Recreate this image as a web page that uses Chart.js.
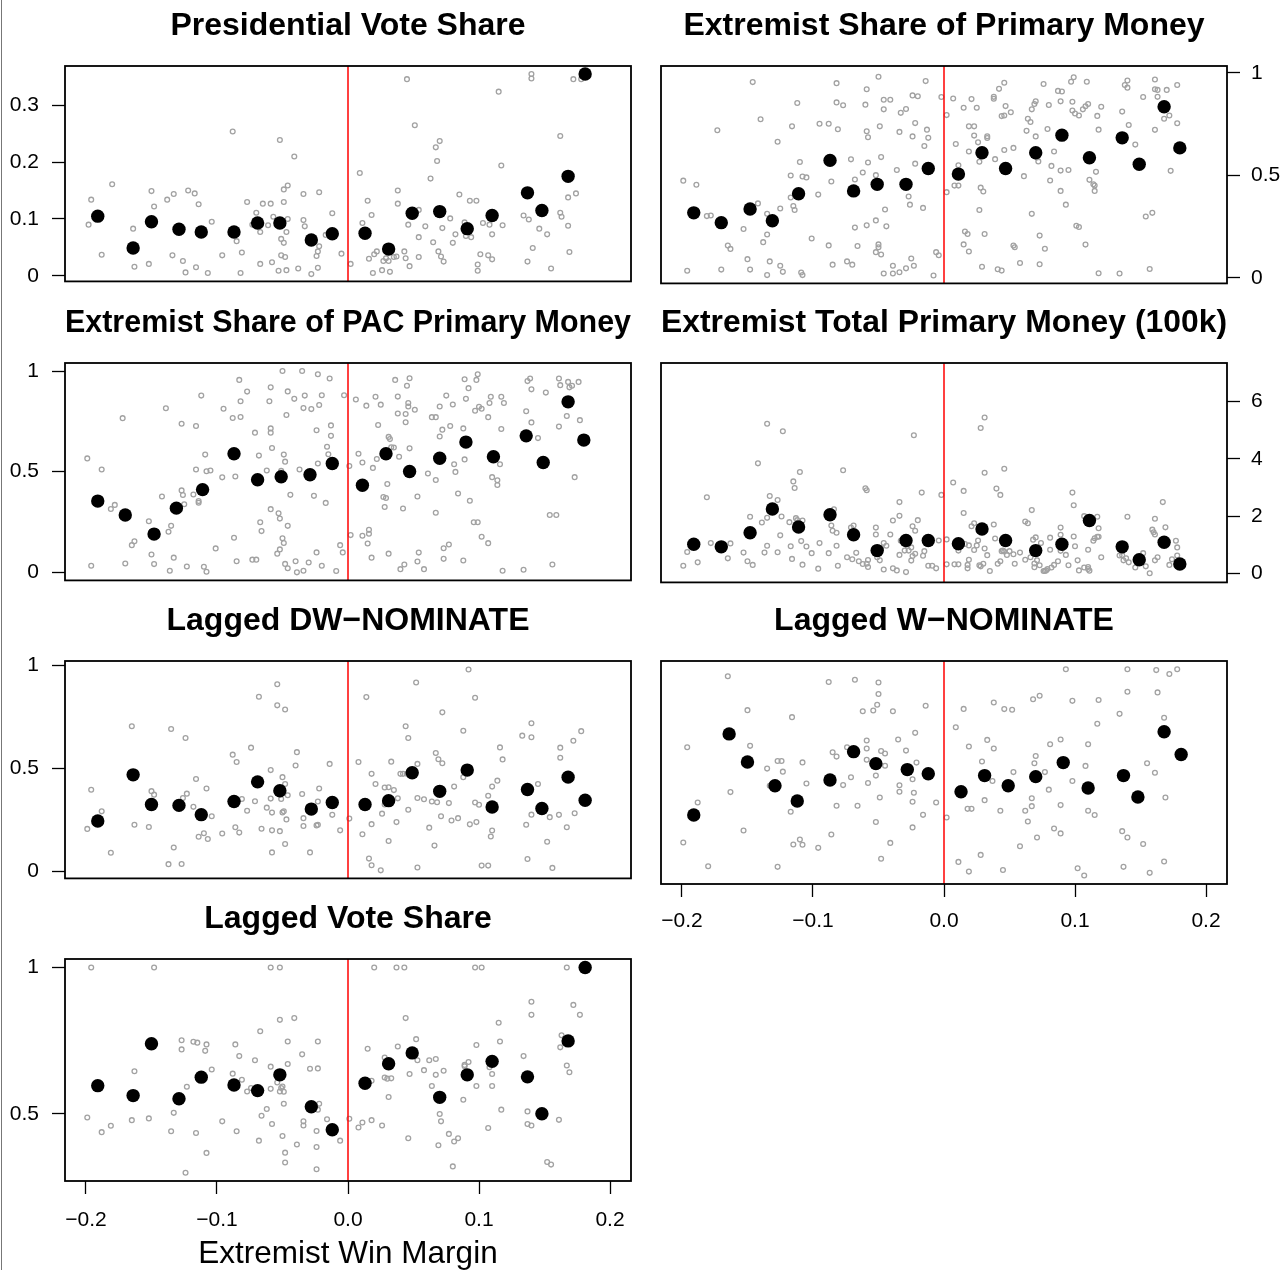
<!DOCTYPE html>
<html>
<head>
<meta charset="utf-8">
<script src="https://cdn.jsdelivr.net/npm/chart.js@4/dist/chart.umd.min.js"></script>
<style>
  html, body { margin: 0; padding: 0; background: #fff; }
  body { position: relative; width: 1288px; height: 1270px; overflow: hidden; }
  .panel { position: absolute; }
  .edge { position: absolute; left: 1px; top: 0; width: 1px; height: 1270px; background: #777; }
</style>
</head>
<body>
<div class="edge"></div>
<script>
// x axis (extremist win margin)
const xTicks = [-0.2, -0.1, 0, 0.1, 0.2];
const xTickLabels = ['\u22120.2', '\u22120.1', '0.0', '0.1', '0.2'];

// bin centres of the black dots
const binXA = [-0.191, -0.164, -0.150, -0.129, -0.112, -0.087, -0.069, -0.052, -0.028, -0.012, 0.013, 0.031, 0.049, 0.070, 0.091, 0.110, 0.137, 0.148, 0.168, 0.181];
const binXB = [-0.191, -0.170, -0.148, -0.131, -0.111, -0.087, -0.069, -0.051, -0.029, -0.012, 0.011, 0.029, 0.047, 0.070, 0.090, 0.111, 0.136, 0.149, 0.168, 0.180];

// y ticks
const presVoteTicks = [0, 0.1, 0.2, 0.3];
const presVoteTickLabels = ['0', '0.1', '0.2', '0.3'];
const shareTicks = [0, 0.5, 1];
const shareTickLabels = ['0', '0.5', '1'];
const moneyTicks = [0, 2, 4, 6];
const moneyTickLabels = ['0', '2', '4', '6'];
const lagVoteTicks = [0.5, 1];
const lagVoteTickLabels = ['0.5', '1'];

// bin means
const presVoteMeans = [0.105, 0.049, 0.095, 0.082, 0.077, 0.077, 0.093, 0.093, 0.063, 0.074, 0.075, 0.047, 0.110, 0.113, 0.083, 0.106, 0.146, 0.115, 0.175, 0.355];
const primShareMeans = [0.317, 0.269, 0.336, 0.278, 0.410, 0.573, 0.424, 0.456, 0.456, 0.533, 0.506, 0.610, 0.533, 0.610, 0.696, 0.586, 0.683, 0.554, 0.835, 0.634];
const pacShareMeans = [0.354, 0.285, 0.190, 0.319, 0.411, 0.589, 0.460, 0.475, 0.485, 0.541, 0.433, 0.589, 0.501, 0.567, 0.647, 0.574, 0.678, 0.546, 0.847, 0.657];
const totalMoneyMeans = [1.02, 0.93, 1.42, 2.25, 1.62, 2.05, 1.35, 0.80, 1.15, 1.15, 1.04, 1.55, 1.15, 0.80, 1.02, 1.85, 0.93, 0.48, 1.09, 0.33];
const dwNomMeans = [0.244, 0.468, 0.324, 0.320, 0.275, 0.339, 0.434, 0.391, 0.302, 0.334, 0.324, 0.343, 0.478, 0.388, 0.491, 0.312, 0.397, 0.305, 0.457, 0.345];
const wNomMeans = [0.294, 0.687, 0.551, 0.436, 0.362, 0.464, 0.601, 0.543, 0.514, 0.494, 0.407, 0.485, 0.436, 0.480, 0.548, 0.425, 0.485, 0.381, 0.697, 0.587];
const lagVoteMeans = [0.596, 0.562, 0.739, 0.551, 0.625, 0.598, 0.579, 0.633, 0.524, 0.445, 0.604, 0.671, 0.708, 0.556, 0.633, 0.679, 0.626, 0.500, 0.749, 1.000];

// individual races [margin, value]
const presVotePoints = [[-0.198,0.090],[-0.196,0.134],[-0.188,0.037],[-0.180,0.161],[-0.164,0.083],[-0.163,0.016],[-0.152,0.021],[-0.150,0.149],[-0.148,0.122],[-0.138,0.134],[-0.133,0.144],[-0.134,0.036],[-0.126,0.026],[-0.124,0.006],[-0.122,0.150],[-0.117,0.145],[-0.114,0.126],[-0.116,0.015],[-0.107,0.005],[-0.104,0.095],[-0.096,0.036],[-0.088,0.254],[-0.085,0.061],[-0.082,0.005],[-0.081,0.041],[-0.077,0.130],[-0.073,0.090],[-0.070,0.111],[-0.067,0.077],[-0.067,0.021],[-0.065,0.127],[-0.059,0.127],[-0.061,0.089],[-0.057,0.104],[-0.058,0.024],[-0.053,0.009],[-0.052,0.239],[-0.051,0.065],[-0.049,0.152],[-0.049,0.130],[-0.049,0.058],[-0.047,0.010],[-0.046,0.159],[-0.047,0.077],[-0.046,0.100],[-0.051,0.036],[-0.048,0.033],[-0.041,0.210],[-0.038,0.013],[-0.034,0.144],[-0.034,0.098],[-0.033,0.087],[-0.028,0.003],[-0.024,0.035],[-0.023,0.014],[-0.022,0.147],[-0.022,0.052],[-0.023,0.043],[-0.017,0.072],[-0.012,0.110],[-0.005,0.039],[0.002,0.021],[0.009,0.181],[0.011,0.093],[0.015,0.132],[0.018,0.107],[0.016,0.030],[0.019,0.005],[0.020,0.038],[0.022,0.043],[0.026,0.010],[0.027,0.026],[0.029,0.031],[0.031,0.026],[0.032,0.007],[0.035,0.033],[0.037,0.034],[0.038,0.150],[0.038,0.127],[0.043,0.043],[0.044,0.031],[0.045,0.346],[0.046,0.090],[0.047,0.017],[0.051,0.265],[0.054,0.116],[0.054,0.068],[0.054,0.033],[0.059,0.087],[0.063,0.171],[0.065,0.059],[0.067,0.226],[0.068,0.202],[0.069,0.043],[0.070,0.237],[0.071,0.034],[0.072,0.084],[0.073,0.025],[0.078,0.101],[0.080,0.058],[0.082,0.073],[0.085,0.143],[0.089,0.094],[0.090,0.070],[0.093,0.132],[0.094,0.068],[0.098,0.132],[0.099,0.009],[0.099,0.020],[0.101,0.038],[0.103,0.093],[0.107,0.036],[0.108,0.090],[0.110,0.029],[0.110,0.073],[0.115,0.324],[0.117,0.194],[0.118,0.089],[0.134,0.106],[0.137,0.025],[0.138,0.099],[0.141,0.049],[0.140,0.355],[0.140,0.347],[0.146,0.083],[0.152,0.073],[0.155,0.013],[0.162,0.246],[0.162,0.111],[0.163,0.104],[0.168,0.138],[0.168,0.088],[0.169,0.042],[0.172,0.346],[0.174,0.145],[0.178,0.346]];

const primSharePoints = [[-0.199,0.474],[-0.196,0.034],[-0.189,0.454],[-0.181,0.301],[-0.178,0.304],[-0.173,0.720],[-0.170,0.040],[-0.165,0.157],[-0.163,0.141],[-0.153,0.238],[-0.150,0.091],[-0.148,0.040],[-0.146,0.955],[-0.142,0.363],[-0.140,0.774],[-0.138,0.174],[-0.135,0.312],[-0.135,0.211],[-0.135,0.013],[-0.133,0.080],[-0.127,0.664],[-0.125,0.059],[-0.123,0.029],[-0.125,0.338],[-0.117,0.499],[-0.116,0.739],[-0.115,0.350],[-0.114,0.331],[-0.112,0.853],[-0.117,0.392],[-0.110,0.406],[-0.110,0.565],[-0.109,0.026],[-0.108,0.013],[-0.108,0.494],[-0.105,0.490],[-0.101,0.192],[-0.096,0.406],[-0.095,0.752],[-0.088,0.752],[-0.088,0.158],[-0.085,0.064],[-0.082,0.950],[-0.082,0.856],[-0.081,0.725],[-0.086,0.470],[-0.077,0.842],[-0.074,0.080],[-0.071,0.578],[-0.070,0.064],[-0.068,0.480],[-0.068,0.245],[-0.066,0.155],[-0.062,0.514],[-0.059,0.256],[-0.060,0.845],[-0.059,0.920],[-0.059,0.715],[-0.058,0.686],[-0.058,0.563],[-0.052,0.501],[-0.052,0.280],[-0.051,0.472],[-0.052,0.125],[-0.050,0.163],[-0.050,0.149],[-0.050,0.981],[-0.049,0.739],[-0.048,0.589],[-0.048,0.114],[-0.046,0.822],[-0.046,0.021],[-0.046,0.869],[-0.045,0.333],[-0.044,0.251],[-0.041,0.869],[-0.039,0.059],[-0.039,0.021],[-0.036,0.526],[-0.034,0.712],[-0.034,0.027],[-0.033,0.805],[-0.029,0.824],[-0.029,0.046],[-0.027,0.397],[-0.026,0.357],[-0.025,0.094],[-0.024,0.690],[-0.023,0.059],[-0.022,0.755],[-0.022,0.557],[-0.024,0.890],[-0.020,0.886],[-0.016,0.341],[-0.015,0.643],[-0.014,0.960],[-0.013,0.723],[-0.012,0.683],[-0.008,0.011],[-0.006,0.125],[-0.004,0.110],[-0.002,0.882],[0.002,0.794],[0.002,0.418],[0.007,0.875],[0.009,0.653],[0.008,0.450],[0.011,0.450],[0.011,0.549],[0.015,0.830],[0.016,0.226],[0.015,0.163],[0.018,0.214],[0.019,0.128],[0.019,0.616],[0.019,0.739],[0.023,0.739],[0.021,0.872],[0.025,0.830],[0.023,0.694],[0.026,0.661],[0.027,0.566],[0.028,0.440],[0.027,0.331],[0.029,0.054],[0.030,0.421],[0.031,0.214],[0.033,0.691],[0.033,0.682],[0.038,0.874],[0.038,0.883],[0.039,0.579],[0.041,0.042],[0.042,0.922],[0.044,0.035],[0.044,0.789],[0.046,0.952],[0.046,0.624],[0.046,0.792],[0.047,0.838],[0.048,0.549],[0.051,0.808],[0.053,0.634],[0.053,0.157],[0.054,0.149],[0.058,0.072],[0.061,0.496],[0.063,0.717],[0.064,0.776],[0.066,0.760],[0.067,0.822],[0.067,0.312],[0.069,0.848],[0.070,0.861],[0.070,0.690],[0.071,0.587],[0.072,0.568],[0.073,0.066],[0.073,0.206],[0.076,0.946],[0.077,0.142],[0.079,0.726],[0.080,0.843],[0.081,0.475],[0.082,0.546],[0.084,0.616],[0.087,0.912],[0.089,0.861],[0.089,0.523],[0.089,0.424],[0.090,0.909],[0.093,0.357],[0.095,0.526],[0.097,0.957],[0.098,0.859],[0.098,0.816],[0.099,0.979],[0.100,0.802],[0.101,0.254],[0.103,0.248],[0.103,0.792],[0.106,0.822],[0.108,0.837],[0.109,0.957],[0.110,0.848],[0.108,0.162],[0.111,0.478],[0.114,0.456],[0.115,0.424],[0.115,0.450],[0.116,0.517],[0.117,0.790],[0.118,0.723],[0.118,0.022],[0.120,0.835],[0.134,0.021],[0.136,0.811],[0.138,0.941],[0.140,0.963],[0.140,0.928],[0.141,0.746],[0.146,0.650],[0.152,0.882],[0.154,0.299],[0.157,0.043],[0.159,0.317],[0.161,0.968],[0.161,0.722],[0.161,0.920],[0.163,0.883],[0.163,0.917],[0.168,0.776],[0.170,0.917],[0.172,0.792],[0.173,0.522],[0.178,0.941],[0.178,0.754]];

const pacSharePoints = [[-0.199,0.566],[-0.196,0.033],[-0.188,0.511],[-0.181,0.315],[-0.178,0.335],[-0.172,0.766],[-0.170,0.044],[-0.165,0.135],[-0.163,0.154],[-0.152,0.254],[-0.150,0.089],[-0.148,0.041],[-0.142,0.377],[-0.139,0.815],[-0.137,0.202],[-0.136,0.008],[-0.135,0.231],[-0.133,0.073],[-0.127,0.407],[-0.126,0.384],[-0.125,0.338],[-0.127,0.738],[-0.123,0.029],[-0.118,0.387],[-0.116,0.511],[-0.116,0.727],[-0.114,0.354],[-0.114,0.346],[-0.112,0.878],[-0.109,0.585],[-0.108,0.502],[-0.110,0.028],[-0.108,0.003],[-0.105,0.506],[-0.101,0.119],[-0.096,0.472],[-0.095,0.813],[-0.088,0.767],[-0.087,0.172],[-0.086,0.476],[-0.085,0.055],[-0.083,0.956],[-0.082,0.850],[-0.082,0.772],[-0.077,0.898],[-0.073,0.063],[-0.070,0.063],[-0.071,0.694],[-0.068,0.580],[-0.067,0.249],[-0.066,0.205],[-0.062,0.506],[-0.060,0.850],[-0.059,0.715],[-0.059,0.694],[-0.059,0.919],[-0.059,0.314],[-0.058,0.618],[-0.054,0.093],[-0.053,0.293],[-0.052,0.114],[-0.052,0.267],[-0.051,0.504],[-0.050,1.000],[-0.050,0.169],[-0.049,0.146],[-0.049,0.585],[-0.048,0.550],[-0.048,0.042],[-0.047,0.782],[-0.046,0.020],[-0.046,0.899],[-0.046,0.231],[-0.044,0.385],[-0.041,0.862],[-0.040,0.055],[-0.039,0.000],[-0.037,0.511],[-0.035,1.000],[-0.034,0.816],[-0.034,0.008],[-0.033,0.878],[-0.030,0.049],[-0.028,0.811],[-0.026,0.380],[-0.024,0.706],[-0.024,0.099],[-0.023,0.984],[-0.023,0.541],[-0.022,0.831],[-0.020,0.880],[-0.020,0.033],[-0.017,0.345],[-0.016,0.624],[-0.015,0.587],[-0.014,0.963],[-0.013,0.678],[-0.013,0.730],[-0.009,0.007],[-0.006,0.135],[-0.004,0.099],[-0.003,0.880],[0.001,0.528],[0.002,0.185],[0.006,0.859],[0.008,0.589],[0.011,0.182],[0.011,0.546],[0.014,0.828],[0.015,0.143],[0.016,0.211],[0.016,0.192],[0.019,0.519],[0.018,0.073],[0.021,0.872],[0.022,0.563],[0.023,0.732],[0.025,0.833],[0.027,0.374],[0.028,0.325],[0.029,0.369],[0.030,0.439],[0.031,0.673],[0.031,0.093],[0.032,0.662],[0.033,0.621],[0.035,0.620],[0.036,0.956],[0.038,0.873],[0.038,0.789],[0.039,0.574],[0.040,0.016],[0.042,0.317],[0.043,0.039],[0.044,0.746],[0.044,0.787],[0.045,0.927],[0.046,0.824],[0.046,0.841],[0.047,0.964],[0.047,0.616],[0.051,0.808],[0.053,0.377],[0.054,0.098],[0.053,0.054],[0.058,0.016],[0.061,0.491],[0.064,0.771],[0.067,0.771],[0.067,0.459],[0.067,0.296],[0.070,0.675],[0.070,0.824],[0.072,0.709],[0.073,0.067],[0.073,0.120],[0.077,0.138],[0.075,0.878],[0.078,0.727],[0.080,0.834],[0.081,0.537],[0.082,0.499],[0.084,0.392],[0.088,0.715],[0.088,0.059],[0.089,0.561],[0.089,0.959],[0.090,0.862],[0.092,0.915],[0.093,0.356],[0.096,0.249],[0.099,0.249],[0.097,0.803],[0.100,0.823],[0.099,0.984],[0.098,0.956],[0.102,0.177],[0.102,0.813],[0.107,0.771],[0.107,0.145],[0.109,0.872],[0.108,0.841],[0.110,0.473],[0.114,0.457],[0.114,0.434],[0.116,0.537],[0.117,0.712],[0.118,0.008],[0.117,0.872],[0.119,0.841],[0.134,0.013],[0.136,0.800],[0.137,0.950],[0.139,0.963],[0.140,0.745],[0.140,0.909],[0.145,0.667],[0.151,0.893],[0.154,0.285],[0.156,0.039],[0.159,0.285],[0.161,0.963],[0.161,0.724],[0.162,0.930],[0.167,0.777],[0.168,0.946],[0.169,0.919],[0.171,0.927],[0.173,0.473],[0.176,0.946],[0.177,0.756]];

const totalMoneyPoints = [[-0.199,0.27],[-0.196,0.75],[-0.188,0.39],[-0.181,2.66],[-0.178,1.06],[-0.165,0.53],[-0.163,1.05],[-0.153,0.73],[-0.150,0.43],[-0.148,1.98],[-0.146,0.30],[-0.142,3.84],[-0.139,1.78],[-0.137,0.73],[-0.135,5.22],[-0.135,1.94],[-0.133,2.70],[-0.135,0.97],[-0.127,2.56],[-0.127,0.74],[-0.125,1.33],[-0.124,1.99],[-0.123,4.96],[-0.118,1.79],[-0.117,0.95],[-0.116,0.51],[-0.115,3.21],[-0.114,2.98],[-0.113,1.93],[-0.112,1.86],[-0.110,3.54],[-0.109,1.13],[-0.108,1.85],[-0.108,0.31],[-0.105,0.94],[-0.101,0.71],[-0.096,0.17],[-0.095,1.06],[-0.088,0.71],[-0.086,1.67],[-0.085,1.49],[-0.084,2.24],[-0.082,1.42],[-0.082,0.97],[-0.081,0.27],[-0.077,3.60],[-0.074,0.57],[-0.071,1.60],[-0.070,0.50],[-0.069,1.67],[-0.067,0.72],[-0.065,0.43],[-0.062,0.33],[-0.060,2.97],[-0.059,2.90],[-0.059,0.34],[-0.058,0.47],[-0.058,0.23],[-0.052,1.60],[-0.052,1.36],[-0.051,0.57],[-0.050,0.69],[-0.049,0.46],[-0.048,0.88],[-0.046,0.14],[-0.046,1.06],[-0.044,0.97],[-0.041,1.36],[-0.039,1.85],[-0.039,0.18],[-0.036,0.11],[-0.034,2.49],[-0.034,2.01],[-0.034,0.65],[-0.033,1.14],[-0.030,0.80],[-0.029,0.05],[-0.028,0.96],[-0.027,0.80],[-0.025,0.45],[-0.025,0.91],[-0.024,0.61],[-0.024,1.65],[-0.023,4.82],[-0.022,1.49],[-0.022,0.69],[-0.020,1.86],[-0.017,2.82],[-0.016,0.62],[-0.015,0.78],[-0.012,0.27],[-0.009,0.27],[-0.006,0.18],[-0.004,1.15],[-0.002,2.74],[0.002,1.19],[0.002,0.32],[0.007,3.17],[0.008,0.32],[0.011,0.32],[0.011,0.80],[0.015,2.88],[0.015,2.11],[0.016,1.03],[0.018,0.30],[0.018,0.18],[0.019,0.48],[0.019,0.98],[0.021,1.65],[0.023,1.75],[0.023,0.82],[0.025,0.98],[0.026,1.15],[0.027,0.29],[0.028,0.25],[0.028,5.07],[0.030,0.34],[0.031,5.44],[0.031,3.51],[0.031,0.87],[0.033,0.64],[0.035,0.09],[0.038,1.71],[0.039,1.22],[0.040,2.96],[0.041,0.34],[0.043,2.74],[0.043,0.43],[0.044,0.78],[0.045,0.80],[0.046,3.65],[0.046,0.77],[0.048,0.65],[0.050,0.78],[0.053,0.67],[0.054,0.34],[0.058,0.73],[0.062,1.81],[0.062,0.48],[0.064,1.75],[0.066,0.57],[0.067,2.21],[0.068,1.18],[0.069,0.35],[0.069,0.22],[0.070,1.26],[0.071,0.46],[0.073,0.29],[0.074,1.06],[0.076,0.09],[0.077,0.09],[0.078,0.11],[0.079,0.16],[0.081,0.83],[0.081,1.25],[0.082,0.21],[0.084,0.30],[0.087,0.43],[0.089,1.60],[0.089,1.35],[0.089,0.79],[0.090,0.93],[0.093,0.65],[0.095,0.29],[0.098,2.82],[0.099,2.38],[0.099,1.29],[0.100,0.95],[0.102,0.46],[0.103,0.11],[0.107,0.21],[0.107,2.00],[0.110,0.83],[0.110,0.23],[0.111,0.10],[0.110,0.16],[0.114,1.14],[0.115,1.23],[0.117,1.28],[0.117,1.98],[0.118,1.58],[0.118,1.28],[0.120,0.57],[0.134,0.63],[0.136,0.64],[0.137,0.46],[0.139,0.53],[0.140,1.98],[0.141,0.39],[0.146,0.21],[0.152,0.71],[0.154,0.25],[0.157,0.01],[0.159,1.53],[0.160,1.44],[0.161,1.36],[0.161,1.91],[0.163,0.57],[0.161,0.46],[0.167,2.49],[0.169,1.61],[0.172,0.30],[0.174,0.50],[0.177,1.14],[0.178,0.91],[0.178,0.63]];

const dwNomPoints = [[-0.199,0.206],[-0.196,0.396],[-0.188,0.291],[-0.181,0.090],[-0.165,0.704],[-0.163,0.226],[-0.152,0.215],[-0.150,0.389],[-0.148,0.372],[-0.137,0.035],[-0.135,0.690],[-0.133,0.116],[-0.127,0.036],[-0.126,0.356],[-0.124,0.647],[-0.123,0.377],[-0.118,0.313],[-0.116,0.448],[-0.114,0.168],[-0.110,0.185],[-0.108,0.402],[-0.107,0.157],[-0.104,0.267],[-0.096,0.184],[-0.088,0.566],[-0.086,0.214],[-0.085,0.530],[-0.083,0.188],[-0.081,0.351],[-0.077,0.294],[-0.074,0.600],[-0.071,0.340],[-0.068,0.847],[-0.066,0.207],[-0.062,0.309],[-0.059,0.491],[-0.059,0.353],[-0.058,0.285],[-0.058,0.092],[-0.058,0.199],[-0.054,0.907],[-0.054,0.805],[-0.052,0.195],[-0.051,0.351],[-0.050,0.457],[-0.050,0.286],[-0.049,0.291],[-0.048,0.785],[-0.048,0.424],[-0.048,0.133],[-0.046,0.369],[-0.047,0.252],[-0.040,0.513],[-0.039,0.578],[-0.035,0.375],[-0.034,0.220],[-0.034,0.258],[-0.029,0.092],[-0.024,0.223],[-0.023,0.226],[-0.023,0.339],[-0.022,0.402],[-0.014,0.521],[-0.012,0.274],[-0.006,0.199],[0.001,0.256],[0.008,0.530],[0.011,0.180],[0.014,0.845],[0.016,0.062],[0.018,0.229],[0.018,0.473],[0.018,0.030],[0.021,0.424],[0.025,0.005],[0.026,0.280],[0.028,0.407],[0.028,0.324],[0.031,0.408],[0.031,0.147],[0.033,0.532],[0.035,0.394],[0.037,0.239],[0.038,0.354],[0.040,0.473],[0.042,0.473],[0.044,0.704],[0.045,0.473],[0.046,0.647],[0.046,0.299],[0.052,0.916],[0.053,0.521],[0.053,0.019],[0.053,0.356],[0.058,0.350],[0.062,0.212],[0.064,0.339],[0.066,0.125],[0.067,0.574],[0.068,0.335],[0.069,0.544],[0.071,0.267],[0.072,0.771],[0.072,0.524],[0.077,0.331],[0.079,0.247],[0.081,0.411],[0.084,0.258],[0.088,0.682],[0.088,0.457],[0.092,0.979],[0.093,0.228],[0.097,0.334],[0.097,0.842],[0.098,0.239],[0.100,0.323],[0.102,0.028],[0.107,0.028],[0.107,0.367],[0.109,0.169],[0.110,0.198],[0.110,0.411],[0.114,0.440],[0.116,0.601],[0.118,0.543],[0.133,0.658],[0.136,0.226],[0.137,0.060],[0.140,0.650],[0.140,0.718],[0.140,0.275],[0.145,0.424],[0.152,0.144],[0.154,0.263],[0.156,0.017],[0.161,0.274],[0.162,0.600],[0.162,0.551],[0.167,0.214],[0.172,0.633],[0.173,0.282],[0.178,0.680]];

const wNomPoints = [[-0.199,0.161],[-0.196,0.622],[-0.188,0.355],[-0.180,0.046],[-0.165,0.966],[-0.163,0.405],[-0.153,0.219],[-0.150,0.802],[-0.148,0.629],[-0.135,0.519],[-0.133,0.436],[-0.127,0.556],[-0.124,0.556],[-0.127,0.043],[-0.123,0.504],[-0.117,0.310],[-0.116,0.768],[-0.115,0.151],[-0.110,0.175],[-0.108,0.150],[-0.108,0.549],[-0.105,0.447],[-0.096,0.135],[-0.088,0.938],[-0.086,0.200],[-0.085,0.598],[-0.082,0.577],[-0.082,0.339],[-0.077,0.439],[-0.074,0.622],[-0.071,0.477],[-0.068,0.949],[-0.066,0.339],[-0.062,0.797],[-0.059,0.655],[-0.059,0.616],[-0.059,0.562],[-0.058,0.449],[-0.054,0.800],[-0.051,0.828],[-0.052,0.485],[-0.052,0.260],[-0.050,0.936],[-0.050,0.880],[-0.049,0.379],[-0.048,0.604],[-0.048,0.082],[-0.045,0.592],[-0.045,0.533],[-0.041,0.159],[-0.039,0.797],[-0.035,0.660],[-0.034,0.438],[-0.034,0.407],[-0.029,0.606],[-0.024,0.467],[-0.024,0.358],[-0.024,0.234],[-0.023,0.402],[-0.022,0.692],[-0.021,0.548],[-0.016,0.295],[-0.014,0.823],[-0.006,0.355],[0.002,0.282],[0.009,0.719],[0.011,0.067],[0.015,0.808],[0.018,0.324],[0.019,0.626],[0.019,0.020],[0.021,0.324],[0.028,0.101],[0.029,0.553],[0.031,0.366],[0.033,0.658],[0.037,0.459],[0.038,0.839],[0.038,0.616],[0.043,0.315],[0.045,0.028],[0.046,0.807],[0.052,0.804],[0.053,0.502],[0.058,0.143],[0.062,0.315],[0.064,0.263],[0.067,0.375],[0.068,0.855],[0.067,0.337],[0.069,0.545],[0.070,0.580],[0.071,0.185],[0.073,0.872],[0.077,0.502],[0.080,0.417],[0.081,0.637],[0.084,0.229],[0.089,0.205],[0.089,0.660],[0.089,0.342],[0.093,1.000],[0.098,0.847],[0.098,0.459],[0.102,0.036],[0.107,0.001],[0.108,0.532],[0.110,0.315],[0.110,0.637],[0.115,0.294],[0.117,0.736],[0.118,0.851],[0.134,0.784],[0.136,0.216],[0.137,0.043],[0.140,0.891],[0.140,0.185],[0.140,1.000],[0.152,0.154],[0.155,0.545],[0.157,0.014],[0.161,0.499],[0.162,0.996],[0.163,0.888],[0.168,0.765],[0.169,0.379],[0.168,0.069],[0.172,0.977],[0.178,1.000]];

const lagVotePoints = [[-0.199,0.487],[-0.196,1.000],[-0.188,0.437],[-0.181,0.459],[-0.165,0.478],[-0.163,0.645],[-0.152,0.484],[-0.148,1.000],[-0.135,0.440],[-0.133,0.503],[-0.127,0.751],[-0.127,0.720],[-0.123,0.592],[-0.118,0.746],[-0.115,0.743],[-0.116,0.434],[-0.109,0.715],[-0.108,0.737],[-0.108,0.366],[-0.104,0.651],[-0.096,0.474],[-0.124,0.298],[-0.088,0.637],[-0.086,0.737],[-0.085,0.440],[-0.083,0.697],[-0.081,0.616],[-0.077,0.576],[-0.074,0.588],[-0.071,0.683],[-0.068,0.408],[-0.067,0.782],[-0.066,0.493],[-0.062,0.516],[-0.059,0.585],[-0.059,0.661],[-0.058,0.465],[-0.059,1.000],[-0.052,1.000],[-0.054,0.607],[-0.052,0.821],[-0.052,0.576],[-0.051,0.588],[-0.050,0.593],[-0.049,0.575],[-0.049,0.534],[-0.050,0.424],[-0.048,0.333],[-0.048,0.367],[-0.046,0.747],[-0.046,0.670],[-0.041,0.827],[-0.039,0.395],[-0.035,0.703],[-0.034,0.474],[-0.034,0.460],[-0.029,0.654],[-0.024,0.441],[-0.024,0.386],[-0.024,0.310],[-0.023,0.655],[-0.023,0.747],[-0.022,0.534],[-0.023,0.514],[-0.016,0.481],[-0.006,0.408],[0.001,0.483],[0.008,0.453],[0.011,0.470],[0.015,0.722],[0.018,0.613],[0.018,0.478],[0.020,1.000],[0.026,0.460],[0.028,0.692],[0.028,0.624],[0.030,0.620],[0.031,0.557],[0.033,0.621],[0.037,1.000],[0.043,1.000],[0.038,0.730],[0.044,0.827],[0.046,0.416],[0.047,0.636],[0.052,0.755],[0.053,0.683],[0.058,0.649],[0.062,0.683],[0.064,0.595],[0.067,0.687],[0.067,0.633],[0.069,0.392],[0.070,0.499],[0.071,0.474],[0.073,0.647],[0.077,0.431],[0.080,0.320],[0.081,0.405],[0.084,0.416],[0.088,0.548],[0.089,0.667],[0.092,0.677],[0.089,0.662],[0.098,0.735],[0.098,0.595],[0.097,1.000],[0.102,1.000],[0.107,0.451],[0.110,0.636],[0.110,0.595],[0.108,0.659],[0.115,0.811],[0.116,0.747],[0.117,0.514],[0.134,0.697],[0.137,0.508],[0.137,0.465],[0.140,0.460],[0.140,0.883],[0.140,0.838],[0.152,0.335],[0.155,0.326],[0.161,0.479],[0.162,0.727],[0.163,0.768],[0.167,1.000],[0.167,0.665],[0.169,0.642],[0.172,0.872],[0.177,0.838]];

Chart.defaults.font.family = "'Liberation Sans', Arial, Helvetica, sans-serif";
Chart.defaults.color = '#000';

// R-style frame around the plotting region
const boxPlugin = {
  id: 'rbox',
  afterDatasetsDraw(chart) {
    const {ctx, chartArea: a} = chart;
    ctx.save();
    ctx.strokeStyle = '#000';
    ctx.lineWidth = 1.8;
    ctx.strokeRect(a.left, a.top, a.right - a.left, a.bottom - a.top);
    ctx.restore();
  }
};

function makePanel(p) {
  const wrap = document.createElement('div');
  wrap.className = 'panel';
  wrap.style.left = p.left + 'px';
  wrap.style.top = p.top + 'px';
  wrap.style.width = p.width + 'px';
  wrap.style.height = p.height + 'px';
  const canvas = document.createElement('canvas');
  wrap.appendChild(canvas);
  document.body.appendChild(wrap);

  const tickGrid = {drawOnChartArea: false, drawTicks: true, tickLength: 13, tickWidth: 1.3, tickColor: '#000'};
  const yLabels = p.yLabels || [];

  new Chart(canvas, {
    type: 'scatter',
    data: {
      datasets: [
        {
          data: p.binX.map((x, i) => ({x: x, y: p.means[i]})),
          pointRadius: 6.7,
          pointBackgroundColor: '#000',
          pointBorderWidth: 0
        },
        {
          data: [{x: 0, y: p.yMin}, {x: 0, y: p.yMax}],
          showLine: true,
          borderColor: '#ff0000',
          borderWidth: 1.5,
          pointRadius: 0
        },
        {
          data: p.points.map(d => ({x: d[0], y: d[1]})),
          pointRadius: 2.4,
          pointBorderWidth: 1.3,
          pointBorderColor: '#a2a2a2',
          pointBackgroundColor: 'rgba(0,0,0,0)'
        }
      ]
    },
    options: {
      responsive: true,
      maintainAspectRatio: false,
      animation: false,
      events: [],
      layout: {padding: p.padding},
      plugins: {
        legend: {display: false},
        tooltip: {enabled: false},
        title: {
          display: true,
          text: p.title,
          fullSize: false,
          color: '#000',
          font: {size: 32, weight: 'bold', lineHeight: 1},
          padding: {top: 10, bottom: 24}
        }
      },
      scales: {
        x: {
          type: 'linear',
          min: -0.216,
          max: 0.216,
          bounds: 'data',
          display: p.showX,
          afterBuildTicks: s => { s.ticks = xTicks.map(v => ({value: v})); },
          afterFit: s => { s.height = p.xHeight || 0; },
          grid: tickGrid,
          border: {display: false},
          ticks: {
            color: '#000', font: {size: 21}, padding: p.xPad || 13,
            autoSkip: false, maxRotation: 0,
            callback: (v, i) => xTickLabels[i]
          },
          title: {
            display: !!p.xTitle,
            text: p.xTitle || '',
            color: '#000',
            font: {size: 31.5, lineHeight: 1},
            padding: {top: 0, bottom: 0}
          }
        },
        y: {
          type: 'linear',
          position: p.yPos || 'left',
          min: p.yMin,
          max: p.yMax,
          bounds: 'data',
          display: !!p.yTicks,
          afterBuildTicks: s => { if (p.yTicks) s.ticks = p.yTicks.map(v => ({value: v})); },
          afterFit: s => { s.width = p.yTicks ? p.yWidth : 0; },
          grid: tickGrid,
          border: {display: false},
          ticks: {
            color: '#000', font: {size: 21}, padding: p.yPos === 'right' ? 11 : 13,
            autoSkip: false,
            callback: (v, i) => (yLabels[i] !== undefined ? yLabels[i] : '')
          }
        }
      }
    },
    plugins: [boxPlugin]
  });
}

const panels = [
  {title: 'Presidential Vote Share', left: 0, top: 0, width: 696, height: 307,
   padding: {left: 0, right: 65, top: 0, bottom: 20}, yWidth: 65,
   yMin: -0.0098, yMax: 0.3691, yTicks: presVoteTicks, yLabels: presVoteTickLabels,
   binX: binXA, means: presVoteMeans, points: presVotePoints, showX: false},
  {title: 'Extremist Share of Primary Money', left: 600, top: 0, width: 688, height: 307,
   padding: {left: 61, right: 0, top: 0, bottom: 20}, yWidth: 61, yPos: 'right',
   yMin: -0.0274, yMax: 1.0336, yTicks: shareTicks, yLabels: shareTickLabels,
   binX: binXB, means: primShareMeans, points: primSharePoints, showX: false},
  {title: 'Extremist Share of PAC Primary Money', left: 0, top: 297, width: 696, height: 309,
   padding: {left: 0, right: 65, top: 0, bottom: 20}, yWidth: 65,
   yMin: -0.04, yMax: 1.04, yTicks: shareTicks, yLabels: shareTickLabels,
   binX: binXB, means: pacShareMeans, points: pacSharePoints, showX: false},
  {title: 'Extremist Total Primary Money (100k)', left: 600, top: 297, width: 688, height: 309,
   padding: {left: 61, right: 0, top: 0, bottom: 20}, yWidth: 61, yPos: 'right',
   yMin: -0.309, yMax: 7.337, yTicks: moneyTicks, yLabels: moneyTickLabels,
   binX: binXB, means: totalMoneyMeans, points: totalMoneyPoints, showX: false},
  {title: 'Lagged DW\u2212NOMINATE', left: 0, top: 595, width: 696, height: 309,
   padding: {left: 0, right: 65, top: 0, bottom: 20}, yWidth: 65,
   yMin: -0.034, yMax: 1.02, yTicks: shareTicks, yLabels: shareTickLabels,
   binX: binXA, means: dwNomMeans, points: dwNomPoints, showX: false},
  {title: 'Lagged W\u2212NOMINATE', left: 600, top: 595, width: 688, height: 349,
   padding: {left: 61, right: 61, top: 0, bottom: 0},
   yMin: -0.04, yMax: 1.04,
   binX: binXA, means: wNomMeans, points: wNomPoints, showX: true, xHeight: 60, xPad: 12},
  {title: 'Lagged Vote Share', left: 0, top: 893, width: 696, height: 377,
   padding: {left: 0, right: 65, top: 0, bottom: 0}, yWidth: 65,
   yMin: 0.27, yMax: 1.029, yTicks: lagVoteTicks, yLabels: lagVoteTickLabels,
   binX: binXA, means: lagVoteMeans, points: lagVotePoints, showX: true, xHeight: 89, xPad: 14,
   xTitle: 'Extremist Win Margin'}
];

panels.forEach(makePanel);
</script>
</body>
</html>
